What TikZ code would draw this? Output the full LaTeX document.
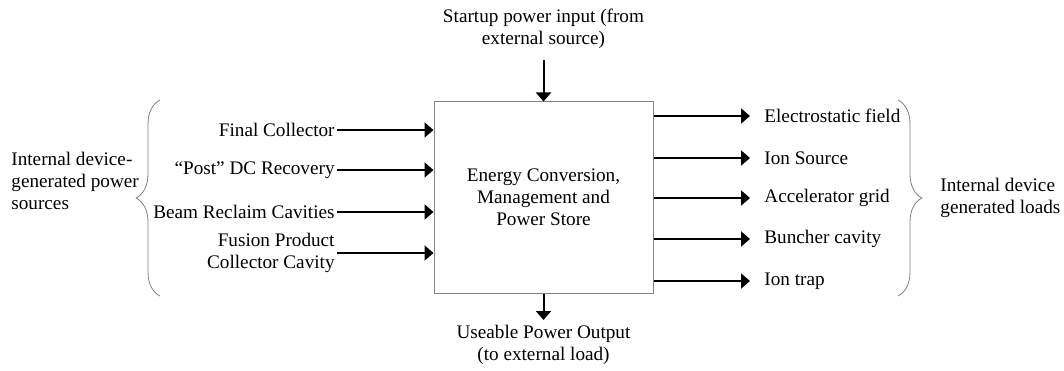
\documentclass[tikz,border=0pt]{standalone}
\usepackage{fontspec}
\setmainfont{Liberation Serif}
\usetikzlibrary{arrows.meta,decorations.pathreplacing}
\begin{document}
\begin{tikzpicture}[x=0.5pt,y=0.5pt,line join=round,>={Triangle[length=4.5pt,width=7.5pt]},
		every node/.style={font=\fontsize{9.6}{11}\selectfont,inner sep=1pt},
		flow/.style={->,line width=1pt},
		brc/.style={draw=gray,line width=0.4pt,decorate,decoration={brace,amplitude=12pt}}]
				\useasboundingbox (0,0) rectangle (1064,370);
				% central block
				\node[draw=gray,line width=0.5pt,minimum width=109.5pt,minimum height=95.5pt,align=center] (ecms) at (543.5,172.5) {Energy Conversion,\\ Management and\\ Power Store};
				% sources (left)
				\node[anchor=east] (fc) at (337,240) {Final Collector};
				\node[anchor=east] (post) at (337,200) {“Post” DC Recovery};
				\node[anchor=east] (beam) at (337,158) {Beam Reclaim Cavities};
				\node[anchor=east,align=right] (fusion) at (337,117) {Fusion Product\\ Collector Cavity};
				\foreach \n in {fc,post,beam,fusion}
				\draw[flow] (\n.east) -- (\n.east -| ecms.west);
				% loads (right)
				\node[anchor=west] (efield) at (762,254) {Electrostatic field};
				\node[anchor=west] (ionsrc) at (762,212) {Ion Source};
				\node[anchor=west] (accel) at (762,172) {Accelerator grid};
				\node[anchor=west] (buncher) at (762,131) {Buncher cavity};
				\node[anchor=west] (trap) at (762,89) {Ion trap};
				\foreach \n in {efield,ionsrc,accel,buncher,trap}
				\draw[flow] (\n.west -| ecms.east) -- ([xshift=-6pt]\n.west);
				% input and output
				\node[align=center] (startup) at (543.5,341) {Startup power input (from\\ external source)};
				\node[align=center] (output) at (543.5,25) {Useable Power Output\\ (to external load)};
				\coordinate (intop) at (543.5,310);
				\coordinate (outbot) at (543.5,50);
				\draw[flow] (intop) -- (ecms.north);
				\draw[flow] (ecms.south) -- (outbot);
				% braces
				\draw[brc] (160,74) -- (160,270);
				\draw[brc] (898,270) -- (898,74);
				\node[anchor=west,align=left] (srcs) at (9,189) {Internal device-\\ generated power\\ sources};
				\node[anchor=west,align=left] (loads) at (938,172) {Internal device\\ generated loads};
		\end{tikzpicture}
\end{document}
